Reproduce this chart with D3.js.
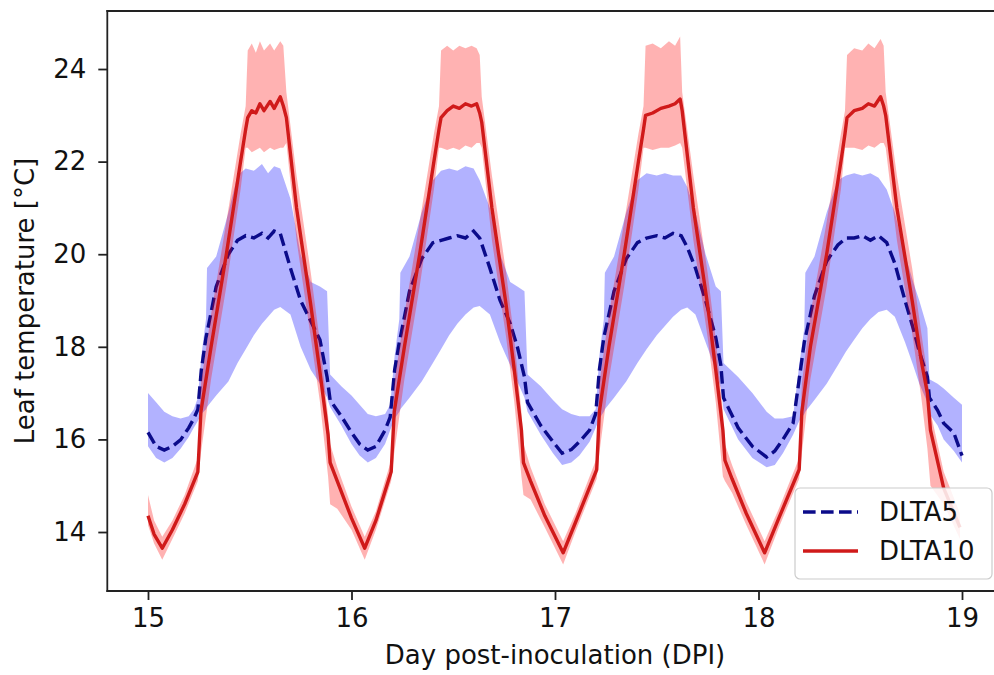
<!DOCTYPE html>
<html>
<head>
<meta charset="utf-8">
<script src="https://cdn.jsdelivr.net/npm/d3@7"></script>
<style>
    body { margin: 0; background: #fff; overflow: hidden; }
    svg text { font-family: "DejaVu Sans", sans-serif; fill: #111; }
</style>
</head>
<body>
<div class="leaf-chart"></div>
<script>
// DLTA10 mean and band (one line per day cycle)
var dlta10Days = [
    15.000, 15.030, 15.070, 15.120, 15.180, 15.245, 15.260, 15.310, 15.385, 15.455, 15.480, 15.490, 15.510, 15.530, 15.550, 15.570, 15.600, 15.620, 15.650, 15.665, 15.680, 15.730, 15.800, 15.845, 15.885, 15.895, 15.930, 16.000, 16.065,
    16.120, 16.195, 16.210, 16.260, 16.335, 16.405, 16.430, 16.440, 16.470, 16.500, 16.530, 16.560, 16.590, 16.615, 16.630, 16.640, 16.690, 16.760, 16.800, 16.835, 16.845, 16.880, 16.950, 17.040,
    17.100, 17.205, 17.218, 17.265, 17.340, 17.410, 17.435, 17.445, 17.480, 17.520, 17.560, 17.590, 17.615, 17.625, 17.680, 17.750, 17.790, 17.825, 17.835, 17.870, 17.940, 18.030,
    18.100, 18.200, 18.213, 18.255, 18.335, 18.405, 18.425, 18.435, 18.470, 18.510, 18.540, 18.570, 18.600, 18.615, 18.625, 18.680, 18.755, 18.800, 18.830, 18.845, 18.910, 18.990
];
var dlta10Mean = [
    14.35, 13.95, 13.65, 14.05, 14.60, 15.30, 16.60, 18.00, 20.00, 22.00, 22.70, 22.95, 23.10, 23.05, 23.25, 23.10, 23.30, 23.15, 23.40, 23.20, 22.95, 21.00, 18.90, 17.45, 16.10, 15.50, 15.10, 14.30, 13.65,
    14.25, 15.30, 16.60, 18.00, 20.00, 22.00, 22.70, 22.95, 23.10, 23.20, 23.15, 23.25, 23.20, 23.25, 23.05, 22.85, 21.00, 18.90, 17.50, 16.20, 15.50, 15.10, 14.35, 13.55,
    14.20, 15.35, 16.60, 18.00, 20.00, 22.00, 22.70, 23.00, 23.05, 23.15, 23.20, 23.25, 23.35, 23.10, 21.00, 18.90, 17.50, 16.20, 15.55, 15.15, 14.40, 13.55,
    14.30, 15.35, 16.60, 18.00, 20.00, 22.00, 22.60, 22.95, 23.10, 23.15, 23.25, 23.20, 23.40, 23.20, 23.00, 21.00, 19.00, 17.70, 17.00, 16.20, 14.95, 14.10
];
var dlta10Lo = [
    14.15, 13.75, 13.40, 13.85, 14.40, 15.10, 15.70, 17.30, 19.30, 21.40, 22.30, 22.30, 22.20, 22.25, 22.30, 22.20, 22.30, 22.25, 22.30, 22.30, 22.40, 20.30, 18.20, 16.80, 15.20, 14.60, 14.50, 14.05, 13.40,
    14.05, 15.10, 15.70, 17.30, 19.30, 21.40, 22.30, 22.30, 22.25, 22.30, 22.25, 22.35, 22.30, 22.40, 22.40, 22.30, 20.30, 18.20, 16.80, 15.20, 14.80, 14.70, 14.10, 13.30,
    14.00, 15.15, 15.70, 17.30, 19.30, 21.40, 22.30, 22.30, 22.25, 22.30, 22.30, 22.35, 22.40, 22.30, 20.30, 18.20, 16.80, 15.20, 15.10, 14.85, 14.15, 13.30,
    14.10, 15.15, 15.70, 17.30, 19.30, 21.40, 22.30, 22.30, 22.30, 22.25, 22.35, 22.30, 22.40, 22.40, 22.30, 20.30, 18.30, 16.90, 15.80, 15.00, 14.60, 13.85
];
var dlta10Hi = [
    14.80, 14.25, 13.90, 14.25, 14.80, 15.60, 17.20, 18.70, 20.70, 22.60, 23.20, 24.40, 24.55, 24.35, 24.60, 24.40, 24.55, 24.40, 24.60, 24.50, 23.50, 21.70, 19.60, 18.10, 16.50, 15.90, 15.40, 14.55, 13.90,
    14.45, 15.55, 17.20, 18.70, 20.70, 22.60, 23.20, 24.40, 24.50, 24.40, 24.50, 24.45, 24.50, 24.45, 24.30, 23.40, 21.70, 19.60, 18.15, 16.60, 15.90, 15.40, 14.60, 13.80,
    14.40, 15.60, 17.20, 18.70, 20.70, 22.60, 23.20, 24.50, 24.55, 24.45, 24.60, 24.50, 24.70, 23.50, 21.70, 19.60, 18.15, 16.60, 15.90, 15.45, 14.65, 13.80,
    14.50, 15.60, 17.20, 18.70, 20.70, 22.60, 23.10, 24.30, 24.45, 24.40, 24.55, 24.45, 24.65, 24.50, 23.50, 21.70, 19.70, 18.30, 17.40, 16.60, 15.30, 14.40
];

// DLTA5 mean and band
var dlta5Days = [
    15.000, 15.040, 15.080, 15.120, 15.160, 15.200, 15.225, 15.245, 15.262, 15.285, 15.290, 15.335, 15.395, 15.440, 15.480, 15.520, 15.560, 15.590, 15.620, 15.650, 15.700, 15.750, 15.800, 15.845, 15.880, 15.895, 15.950, 16.000, 16.040, 16.080,
    16.120, 16.165, 16.190, 16.212, 16.235, 16.240, 16.285, 16.345, 16.400, 16.440, 16.480, 16.520, 16.560, 16.600, 16.630, 16.680, 16.730, 16.780, 16.815, 16.850, 16.865, 16.930, 16.990, 17.035, 17.080,
    17.120, 17.170, 17.200, 17.218, 17.240, 17.245, 17.290, 17.350, 17.405, 17.450, 17.500, 17.540, 17.580, 17.620, 17.650, 17.690, 17.740, 17.790, 17.815, 17.828, 17.900, 17.970, 18.040,
    18.080, 18.120, 18.170, 18.200, 18.225, 18.230, 18.275, 18.335, 18.390, 18.430, 18.470, 18.510, 18.550, 18.590, 18.630, 18.670, 18.720, 18.760, 18.790, 18.830, 18.840, 18.880, 18.910, 18.960, 19.000
];
var dlta5Mean = [
    16.15, 15.85, 15.77, 15.85, 15.99, 16.25, 16.45, 16.65, 17.50, 18.20, 18.30, 19.30, 20.00, 20.30, 20.40, 20.35, 20.45, 20.35, 20.50, 20.45, 19.70, 19.00, 18.55, 18.15, 17.35, 16.85, 16.50, 16.15, 15.90, 15.77,
    15.85, 16.20, 16.48, 17.50, 18.10, 18.20, 19.20, 19.90, 20.25, 20.30, 20.35, 20.40, 20.35, 20.50, 20.35, 19.70, 19.00, 18.50, 18.00, 17.35, 16.80, 16.30, 15.95, 15.70, 15.78,
    15.95, 16.20, 16.55, 17.50, 18.20, 18.30, 19.20, 19.90, 20.25, 20.35, 20.40, 20.35, 20.45, 20.40, 20.15, 19.70, 19.00, 18.20, 17.60, 16.90, 16.25, 15.85, 15.62,
    15.75, 16.00, 16.35, 17.30, 18.10, 18.20, 19.10, 19.85, 20.20, 20.35, 20.35, 20.40, 20.30, 20.40, 20.25, 19.80, 19.00, 18.40, 17.90, 17.35, 16.90, 16.63, 16.35, 16.14, 15.65
];
var dlta5Lo = [
    15.85, 15.60, 15.50, 15.60, 15.80, 16.05, 16.25, 16.40, 16.55, 16.65, 16.70, 16.95, 17.25, 17.65, 17.95, 18.25, 18.50, 18.65, 18.80, 18.86, 18.70, 18.00, 17.50, 17.20, 16.90, 16.70, 16.30, 15.90, 15.65, 15.50,
    15.60, 15.90, 16.20, 16.45, 16.60, 16.65, 16.90, 17.25, 17.65, 17.95, 18.25, 18.50, 18.70, 18.85, 18.88, 18.70, 18.10, 17.60, 17.25, 16.90, 16.60, 16.10, 15.70, 15.45, 15.50,
    15.65, 15.95, 16.25, 16.45, 16.60, 16.65, 16.90, 17.25, 17.65, 17.95, 18.25, 18.45, 18.65, 18.80, 18.85, 18.70, 18.10, 17.50, 17.10, 16.65, 16.00, 15.60, 15.40,
    15.45, 15.70, 16.10, 16.40, 16.55, 16.60, 16.85, 17.20, 17.60, 17.90, 18.15, 18.40, 18.60, 18.75, 18.80, 18.65, 18.10, 17.60, 17.20, 16.80, 16.55, 16.30, 16.00, 15.75, 15.50
];
var dlta5Hi = [
    17.00, 16.80, 16.60, 16.50, 16.45, 16.50, 16.65, 16.90, 17.80, 18.60, 19.70, 19.95, 20.90, 21.70, 21.85, 21.80, 21.95, 21.75, 21.90, 21.85, 21.20, 20.00, 19.40, 19.30, 19.20, 17.40, 17.15, 16.95, 16.75, 16.55,
    16.50, 16.55, 16.75, 17.80, 18.60, 19.60, 19.95, 20.90, 21.60, 21.80, 21.85, 21.80, 21.90, 21.85, 21.60, 21.00, 20.00, 19.40, 19.30, 19.20, 17.40, 17.15, 16.85, 16.65, 16.55,
    16.50, 16.50, 16.65, 17.80, 18.60, 19.60, 19.95, 20.90, 21.60, 21.75, 21.70, 21.75, 21.70, 21.70, 21.45, 20.90, 20.00, 19.30, 19.20, 17.65, 17.35, 17.00, 16.60,
    16.45, 16.45, 16.50, 17.60, 18.40, 19.60, 19.95, 20.90, 21.60, 21.70, 21.75, 21.70, 21.75, 21.65, 21.40, 20.90, 20.00, 19.40, 19.00, 18.40, 17.30, 17.20, 17.10, 16.90, 16.75
];

var xTicks = [15, 16, 17, 18, 19];
var yTicks = [14, 16, 18, 20, 22, 24];
var seriesNames = ['DLTA5', 'DLTA10'];

var LeafChart = (function () {
    var width = 994, height = 675;
    // the figure is cropped on the right: the right spine sits past the edge
    var plotLeft = 107.3, plotRight = 1002.7, plotTop = 11, plotBottom = 591;
    var fontSize = 26;
    var blueInk = '#0b0b8a', redInk = '#d01a1a';

    var svg = d3.select('.leaf-chart')
        .append('svg')
        .attr('width', width)
        .attr('height', height)
        .style('display', 'block');

    var x = d3.scaleLinear().domain([14.8, 19.2]).range([plotLeft, plotRight]);
    var y = d3.scaleLinear().domain([12.726, 25.253]).range([plotBottom, plotTop]);

    function rows(days, mean, lo, hi) {
        return days.map(function(d, i) {
            return {t: d, m: mean[i], lo: lo[i], hi: hi[i]};
        });
    }

    function draw() {
        svg.append('defs').append('clipPath')
            .attr('id', 'plot-clip')
            .append('rect')
            .attr('x', plotLeft).attr('y', plotTop)
            .attr('width', plotRight - plotLeft).attr('height', plotBottom - plotTop);

        var blue = rows(dlta5Days, dlta5Mean, dlta5Lo, dlta5Hi);
        var red = rows(dlta10Days, dlta10Mean, dlta10Lo, dlta10Hi);

        var band = d3.area()
            .x(function(d) { return x(d.t); })
            .y0(function(d) { return y(d.lo); })
            .y1(function(d) { return y(d.hi); });

        var meanLine = d3.line()
            .x(function(d) { return x(d.t); })
            .y(function(d) { return y(d.m); });

        var plot = svg.append('g').attr('clip-path', 'url(#plot-clip)');

        plot.append('path')
            .datum(blue)
            .attr('d', band)
            .style('fill', 'blue')
            .style('fill-opacity', 0.3);

        plot.append('path')
            .datum(blue)
            .attr('d', meanLine)
            .style('fill', 'none')
            .style('stroke', blueInk)
            .style('stroke-width', 3.4)
            .style('stroke-dasharray', '12.6,5.4');

        plot.append('path')
            .datum(red)
            .attr('d', band)
            .style('fill', 'red')
            .style('fill-opacity', 0.3);

        plot.append('path')
            .datum(red)
            .attr('d', meanLine)
            .style('fill', 'none')
            .style('stroke', redInk)
            .style('stroke-width', 3.4)
            .style('stroke-linejoin', 'round');

        // axes
        var xAxis = svg.append('g')
            .attr('transform', 'translate(0,' + plotBottom + ')')
            .call(d3.axisBottom(x).tickValues(xTicks).tickSize(9).tickPadding(9).tickFormat(d3.format('d')));

        var yAxis = svg.append('g')
            .attr('transform', 'translate(' + plotLeft + ',0)')
            .call(d3.axisLeft(y).tickValues(yTicks).tickSize(9).tickPadding(12).tickFormat(d3.format('d')));

        [xAxis, yAxis].forEach(function(g) {
            g.select('.domain').remove();
            g.selectAll('line').style('stroke', '#222').style('stroke-width', 1.8);
            g.selectAll('text')
                .style('font-size', fontSize + 'px')
                .style('font-family', '"DejaVu Sans", sans-serif')
                .style('fill', '#111');
        });

        // spines: top, left, bottom only (right one is outside the picture)
        var spines = [
            [plotLeft, plotTop, width, plotTop],
            [plotLeft, plotTop, plotLeft, plotBottom],
            [plotLeft, plotBottom, width, plotBottom]
        ];
        svg.selectAll('.spine')
            .data(spines)
            .enter().append('line')
            .attr('class', 'spine')
            .attr('x1', function(d) { return d[0]; })
            .attr('y1', function(d) { return d[1]; })
            .attr('x2', function(d) { return d[2]; })
            .attr('y2', function(d) { return d[3]; })
            .style('stroke', '#222')
            .style('stroke-width', 1.8)
            .style('stroke-linecap', 'square');

        svg.append('text')
            .attr('x', (plotLeft + plotRight) / 2)
            .attr('y', 664)
            .attr('text-anchor', 'middle')
            .style('font-size', fontSize + 'px')
            .text('Day post-inoculation (DPI)');

        svg.append('text')
            .attr('transform', 'translate(34,' + (plotTop + plotBottom) / 2 + ') rotate(-90)')
            .attr('text-anchor', 'middle')
            .style('font-size', fontSize + 'px')
            .text('Leaf temperature [°C]');

        // legend, lower right
        var legend = svg.append('g');

        legend.append('rect')
            .attr('x', 795).attr('y', 488)
            .attr('width', 197).attr('height', 91)
            .attr('rx', 5)
            .style('fill', '#fff')
            .style('fill-opacity', 0.85)
            .style('stroke', '#cccccc')
            .style('stroke-width', 1.2);

        var legendRows = legend.selectAll('.legend-row')
            .data(seriesNames)
            .enter().append('g')
            .attr('class', 'legend-row')
            .attr('transform', function(d, i) { return 'translate(0,' + (512 + i * 39) + ')'; });

        legendRows.append('line')
            .attr('x1', 803).attr('x2', 858)
            .attr('y1', 0).attr('y2', 0)
            .style('stroke', function(d, i) { return i === 0 ? blueInk : redInk; })
            .style('stroke-width', 3.4)
            .style('stroke-dasharray', function(d, i) { return i === 0 ? '12.6,5.4' : null; });

        legendRows.append('text')
            .attr('x', 879)
            .attr('y', 9)
            .style('font-size', fontSize + 'px')
            .text(function(d) { return d; });
    }

    return {
        init: draw
    };
})();

LeafChart.init();
</script>
</body>
</html>
